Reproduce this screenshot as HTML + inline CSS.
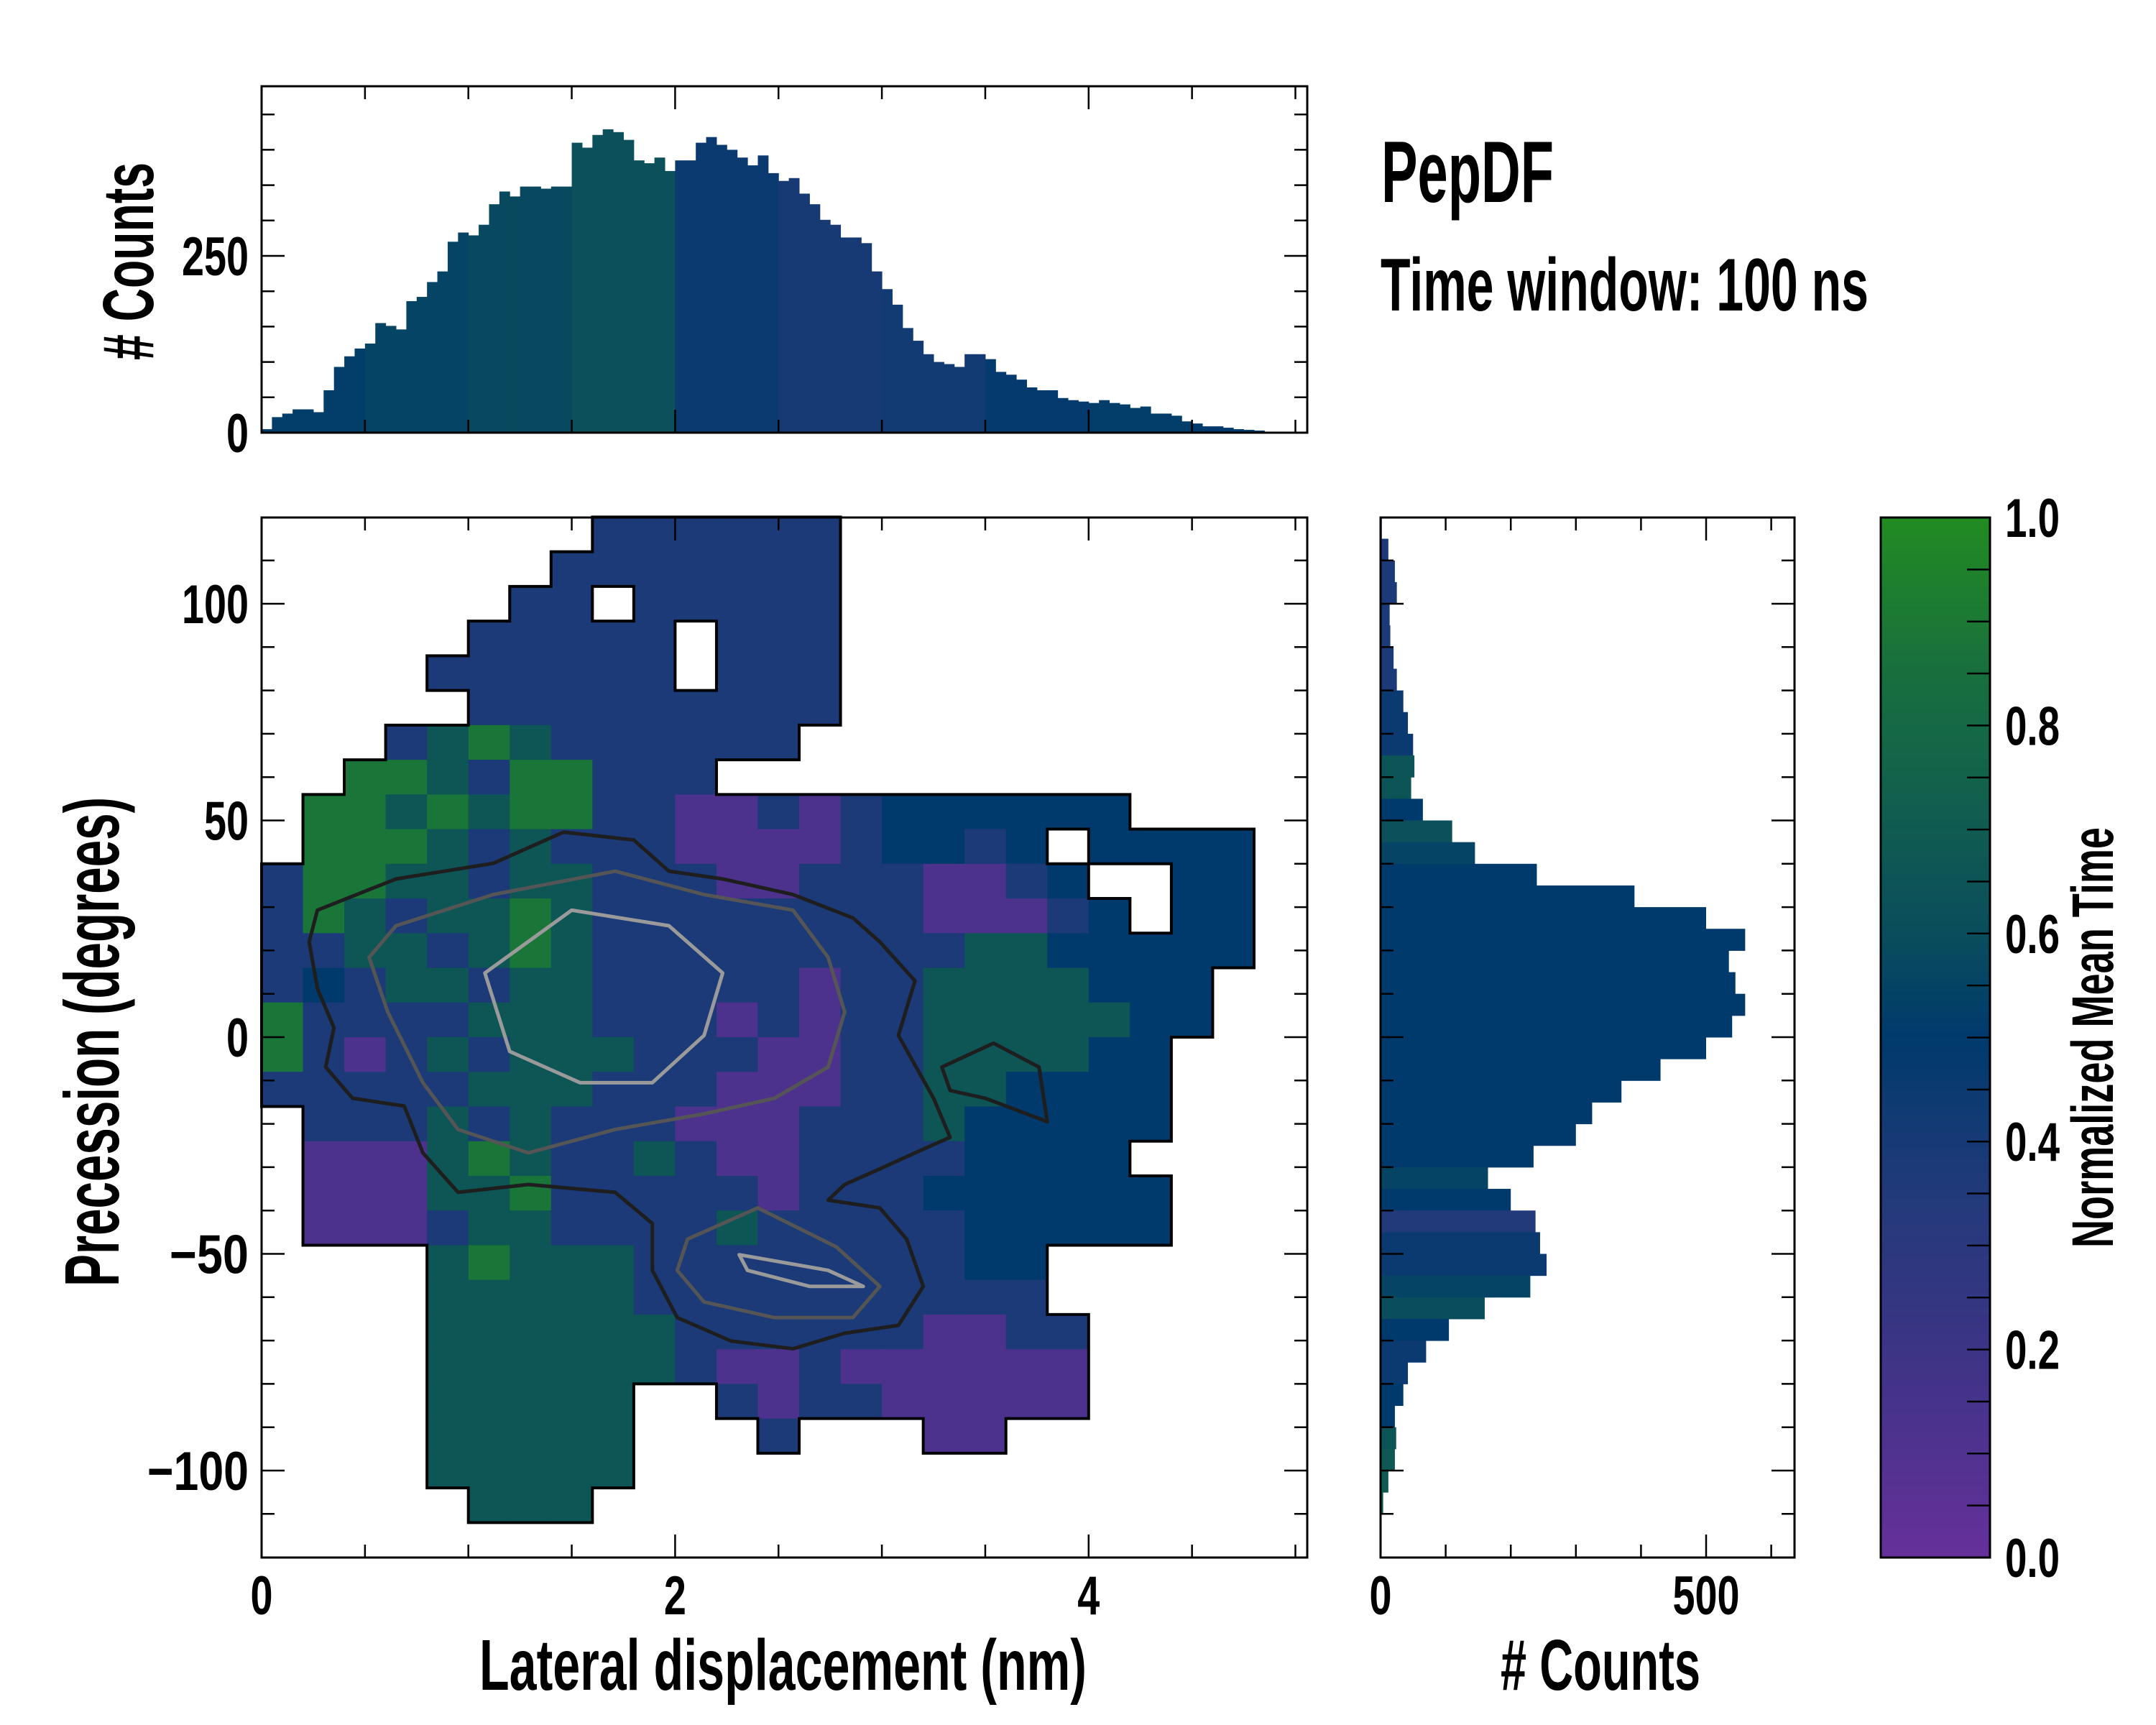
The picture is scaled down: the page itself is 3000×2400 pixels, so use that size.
<!DOCTYPE html>
<html><head><meta charset="utf-8"><title>PepDF</title>
<style>
html,body{margin:0;padding:0;background:#fff;}
svg{display:block;}
text{font-family:"Liberation Sans Narrow","Liberation Sans",sans-serif;font-weight:bold;fill:#000;}
</style></head>
<body>
<svg id="fig" xmlns="http://www.w3.org/2000/svg" width="3000" height="2400" viewBox="0 0 3000 2400">
<rect x="0" y="0" width="3000" height="2400" fill="#fff"/>
<g id="heat"></g>
<g id="contours"></g>
<g id="tophist"></g>
<g id="righthist"></g>
<g id="cbar"></g>
<g id="ticks"></g>
<rect x="364" y="720" width="1455" height="1447" fill="none" stroke="#000" stroke-width="3"/>
<rect x="364" y="120" width="1455" height="482" fill="none" stroke="#000" stroke-width="3"/>
<rect x="1921" y="720" width="576" height="1447" fill="none" stroke="#000" stroke-width="3"/>
<rect x="2617" y="720" width="152" height="1447" fill="none" stroke="#000" stroke-width="3"/>
<g id="labels"></g>
<text x="1922" y="281" font-size="122" textLength="240" lengthAdjust="spacingAndGlyphs">PepDF</text>
<text x="1921" y="432" font-size="104" textLength="679" lengthAdjust="spacingAndGlyphs">Time window: 100 ns</text>
<text x="667" y="2351" font-size="100" textLength="845" lengthAdjust="spacingAndGlyphs">Lateral displacement (nm)</text>
<text x="2088" y="2351" font-size="100" textLength="278" lengthAdjust="spacingAndGlyphs"># Counts</text>
<text transform="translate(165,1790) rotate(-90)" x="0" y="0" font-size="108" textLength="681" lengthAdjust="spacingAndGlyphs">Precession (degrees)</text>
<text transform="translate(213,501) rotate(-90)" x="0" y="0" font-size="100" textLength="275" lengthAdjust="spacingAndGlyphs"># Counts</text>
<text transform="translate(2940,1736) rotate(-90)" x="0" y="0" font-size="82" textLength="585" lengthAdjust="spacingAndGlyphs">Normalized Mean Time</text>
</svg>
<script>
// ---------- data ----------
const heatRows = [
"........BBBBBB...........",
".......BBBBBBB...........",
"......BB.BBBBB...........",
".....BBBBB.BBB...........",
"....BBBBBB.BBB...........",
".....BBBBBBBBB...........",
"...BTGTBBBBBB............",
"..GGTBGGBBB..............",
".GGTGTGGBBPPBPBNNNNNN....",
".GGGTBTBBBPPPPBNNBN.NNNN.",
"BGGTTBTTBBBPPBBBPPBN..NN.",
"BGTBTTGTBBBBBBBBPPPBN.NN.",
"BBTTBTGTBBBBBBBBBTTNNNNN.",
"BNBTTBTTBBBBBPBBTTTTNNN..",
"GBBBBTTTBBBPBPBBTTTTTNN..",
"GBPBTBTTTBBBPPBBTTTTNN...",
"BBBBBTTTBBBPPPBBTTNNNN...",
".BBBTBTBBBPPPBBBTNNNNN...",
".PPPTGTBBTBPPBBBBNNNN....",
".PPPTTGBBBBBPBBBNNNNNN...",
".PPPBTTBBBBTBBBBBNNNNN...",
"....TGTTTBBBBBBBBNN......",
"....TTTTTBBBBBBBBBB......",
"....TTTTTTBBBBBBPPBB.....",
"....TTTTTTBPPBPPPPPP.....",
"....TTTTT..BPBBPPPPP.....",
"....TTTTT...B...PP.......",
"....TTTTT................",
".....TTT.................",
"........................."
];
const heatCodes = ["P","B","N","T","G"];
const heatValues = [0.12,0.38,0.5,0.66,0.88];
const heatX0 = 0, heatDX = 0.2, heatY0 = 120, heatDY = 8;

const topCounts = [5,22,27,33,33,29,60,93,108,119,126,155,151,146,186,192,213,228,270,283,
279,294,323,341,334,348,348,345,348,348,410,403,421,429,425,414,385,381,389,370,
385,385,410,418,407,400,389,378,392,367,356,360,338,323,301,294,276,276,268,228,
203,181,148,130,111,100,97,93,111,111,104,86,82,75,64,60,60,49,46,44,
42,46,42,40,35,37,27,27,24,16,13,9,9,7,5,4,3];
const topBinStart = 0, topBinWidth = 0.05;
const topColorSeg = [0.52,0.55,0.58,0.62,0.45,0.4,0.42,0.48,0.52,0.5];

const rightCounts = [2,12,22,25,14,15,20,25,35,42,50,52,47,65,110,145,240,390,500,560,535,545,560,540,
500,430,370,325,300,235,165,200,238,245,255,230,160,105,70,42,35,22,24,22,12,4,0,0];
const rightColors = [0.38,0.38,0.38,0.38,0.38,0.38,0.38,0.38,0.45,0.45,0.45,0.65,0.65,0.5,0.62,0.55,
0.5,0.5,0.5,0.5,0.5,0.5,0.5,0.5,0.5,0.5,0.5,0.5,0.5,0.5,0.55,0.5,
0.35,0.45,0.45,0.55,0.6,0.5,0.45,0.45,0.5,0.5,0.65,0.68,0.7,0.7,0.5,0.5];
const rightBinTop = 120, rightBinHeight = 5;

const contourOuterX = [0.27,0.65,1.12,1.46,1.80,1.97,2.23,2.57,2.86,2.99,3.16,3.08,3.25,3.33,3.16,2.99,2.82,2.74,2.99,3.12,3.20,3.08,2.82,2.57,2.27,2.01,1.89,1.89,1.71,1.29,0.95,0.78,0.69,0.44,0.31,0.35,0.27,0.23];
const contourOuterY = [29.3,36.5,40.1,47.3,45.5,38.3,36.5,32.9,27.5,22.0,13.0,0.4,-14.1,-23.1,-26.7,-30.4,-34.0,-37.6,-39.4,-46.6,-57.5,-66.5,-68.3,-71.9,-70.1,-64.7,-53.8,-43.0,-35.8,-34.0,-35.8,-26.7,-15.9,-14.1,-6.9,2.2,11.2,22.0];
const contourRightX = [3.29,3.54,3.76,3.80,3.50,3.33];
const contourRightY = [-6.9,-1.4,-6.9,-19.5,-14.1,-12.3];
const contourMidX = [0.65,1.12,1.71,2.14,2.57,2.74,2.82,2.74,2.48,2.14,1.71,1.29,0.95,0.78,0.61,0.52];
const contourMidY = [25.7,32.9,38.3,32.9,29.3,18.4,5.8,-6.9,-14.1,-17.7,-21.3,-26.7,-21.3,-10.5,5.8,18.4];
const contourLowX = [2.06,2.40,2.78,2.99,2.86,2.48,2.14,2.01];
const contourLowY = [-46.6,-39.4,-48.4,-57.5,-64.7,-64.7,-61.1,-53.8];
const contourInnerX = [1.08,1.50,1.97,2.23,2.14,1.89,1.54,1.20];
const contourInnerY = [14.8,29.3,25.7,14.8,0.4,-10.5,-10.5,-3.3];
const contourLowInnerX = [2.31,2.74,2.91,2.65,2.35];
const contourLowInnerY = [-50.2,-53.8,-57.5,-57.5,-53.8];

const xTickVals = [0,2,4];
const xTickLabels = ["0","2","4"];
const yTickVals = [100,50,0,-50,-100];
const yTickLabels = ["100","50","0","\u221250","\u2212100"];
const topYTickVals = [0,250];
const topYTickLabels = ["0","250"];
const rightXTickVals = [0,500];
const rightXTickLabels = ["0","500"];
const cbTickVals = [0,0.2,0.4,0.6,0.8,1.0];
const cbTickLabels = ["0.0","0.2","0.4","0.6","0.8","1.0"];

// ---------- scales ----------
const X = x => 364 + x*287.7;
const Y = y => 1443 - y*6.03;
const YT = c => 602 - c*0.984;
const XR = c => 1921 + c*0.906;
const CY = v => 2167 - v*1447;

const stops = [[0,[102,48,154]],[0.2,[60,52,133]],[0.35,[34,58,122]],[0.5,[0,58,108]],[0.6,[10,77,92]],[0.75,[19,98,76]],[0.85,[24,111,62]],[1,[34,139,34]]];
function cmap(v){
  v=Math.max(0,Math.min(1,v));
  for(let i=1;i<stops.length;i++){
    if(v<=stops[i][0]){
      const a=stops[i-1],b=stops[i],t=(v-a[0])/(b[0]-a[0]);
      const c=a[1].map((q,k)=>Math.round(q+(b[1][k]-q)*t));
      return "rgb("+c.join(",")+")";
    }
  }
  return "rgb(34,139,34)";
}
const NS="http://www.w3.org/2000/svg";
function mk(tag,parent,attrs){const e=document.createElementNS(NS,tag);for(const k in attrs)e.setAttribute(k,attrs[k]);parent.appendChild(e);return e;}

// ---------- heatmap ----------
const heat=document.getElementById('heat');
const nR=heatRows.length,nC=heatRows[0].length;
function on(r,c){return r>=0&&r<nR&&c>=0&&c<nC&&heatRows[r][c]!=='.';}
for(let r=0;r<nR;r++){for(let c=0;c<nC;c++){
  const ch=heatRows[r][c]; if(ch==='.')continue;
  const v=heatValues[heatCodes.indexOf(ch)];
  const x0=X(heatX0+c*heatDX),x1=X(heatX0+(c+1)*heatDX);
  const y0=Y(heatY0-r*heatDY),y1=Y(heatY0-(r+1)*heatDY);
  const e=mk('rect',heat,{x:x0,y:y0,width:Math.min(x1,1819)-x0+0.6,height:y1-y0+0.6,fill:cmap(v)});
  
  
}}
let d="";
for(let r=0;r<nR;r++){for(let c=0;c<nC;c++){
  if(!on(r,c))continue;
  const x0=X(heatX0+c*heatDX),x1=Math.min(X(heatX0+(c+1)*heatDX),1819);
  const y0=Y(heatY0-r*heatDY),y1=Y(heatY0-(r+1)*heatDY);
  if(!on(r-1,c))d+=`M${x0},${y0}H${x1}`;
  if(!on(r+1,c))d+=`M${x0},${y1}H${x1}`;
  if(!on(r,c-1))d+=`M${x0},${y0}V${y1}`;
  if(!on(r,c+1))d+=`M${x1},${y0}V${y1}`;
}}
const ol=mk('path',heat,{d:d,fill:'none',stroke:'#000','stroke-width':4,'stroke-linecap':'square'});



// ---------- contours ----------
const cg=document.getElementById('contours');
function contour(xs,ys,color,name){
  const pts=xs.map((x,i)=>X(x)+","+Y(ys[i])).join(" ");
  const e=mk('polygon',cg,{points:pts,fill:'none',stroke:color,'stroke-width':5,'stroke-linejoin':'round'});
  
  
}
contour(contourOuterX,contourOuterY,'#1e1e1e','contour-level-1');
contour(contourRightX,contourRightY,'#1e1e1e','contour-level-1-right');
contour(contourMidX,contourMidY,'#555555','contour-level-2');
contour(contourLowX,contourLowY,'#555555','contour-level-2-lower');
contour(contourInnerX,contourInnerY,'#9a9a9a','contour-level-3');
contour(contourLowInnerX,contourLowInnerY,'#9a9a9a','contour-level-3-lower');

// ---------- top histogram ----------
const th=document.getElementById('tophist');
topCounts.forEach((c,i)=>{
  const xs=topBinStart+i*topBinWidth;
  const seg=topColorSeg[Math.min(topColorSeg.length-1,Math.floor(xs/0.5))];
  const e=mk('rect',th,{x:X(xs),y:YT(c),width:X(xs+topBinWidth)-X(xs)+0.5,height:YT(0)-YT(c),fill:cmap(seg)});
  
  
});

// ---------- right histogram ----------
const rh=document.getElementById('righthist');
rightCounts.forEach((c,i)=>{
  if(c<=0)return;
  const yt=rightBinTop-i*rightBinHeight;
  const e=mk('rect',rh,{x:XR(0),y:Y(yt),width:XR(c)-XR(0),height:Y(yt-rightBinHeight)-Y(yt)+0.5,fill:cmap(rightColors[i])});
  
  
});

// ---------- colorbar ----------
const cb=document.getElementById('cbar');
for(let k=0;k<200;k++){
  const v0=k/200,v1=(k+1)/200;
  const e=mk('rect',cb,{x:2617,y:CY(v1),width:152,height:CY(v0)-CY(v1)+0.6,fill:cmap((v0+v1)/2)});
  
  
}

// ---------- ticks ----------
const tg=document.getElementById('ticks');
function tick(x1,y1,x2,y2){
  const e=mk('line',tg,{x1:x1,y1:y1,x2:x2,y2:y2,stroke:'#000','stroke-width':2.5});
  
  
}
for(let k=0;k<=10;k++){const v=k*0.5,x=X(v),L=(k%4===0)?32:18;
  tick(x,2167,x,2167-L);tick(x,720,x,720+L);tick(x,602,x,602-L);tick(x,120,x,120+L);}
for(let v=-110;v<=110;v+=10){const y=Y(v),L=(v%50===0)?32:18;
  tick(364,y,364+L,y);tick(1819,y,1819-L,y);tick(1921,y,1921+L,y);tick(2497,y,2497-L,y);}
for(let c=50;c<=450;c+=50){const y=YT(c),L=(c%250===0)?32:18;tick(364,y,364+L,y);tick(1819,y,1819-L,y);}
for(let c=100;c<=600;c+=100){const x=XR(c),L=(c%500===0)?32:18;tick(x,2167,x,2167-L);tick(x,720,x,720+L);}
for(let k=1;k<20;k++){const y=CY(k*0.05);tick(2769,y,2737,y);}

// ---------- tick labels ----------
const lg=document.getElementById('labels');
function tlen(s){let w=0;for(const ch of s){w+= ch==='.'?14:(ch==='\u2212'?48:31);}return w;}
function label(txt,x,y,anchor,name){
  const e=mk('text',lg,{x:x,y:y,'text-anchor':anchor,'font-size':76,textLength:tlen(txt),lengthAdjust:'spacingAndGlyphs'});
  e.textContent=txt;
  
  
}
xTickVals.forEach((v,i)=>label(xTickLabels[i],X(v),2246,'middle','x-tick-label'));
yTickVals.forEach((v,i)=>label(yTickLabels[i],346,Y(v)+27,'end','y-tick-label'));
topYTickVals.forEach((v,i)=>label(topYTickLabels[i],346,YT(v)+27,'end','top-hist-y-tick-label'));
rightXTickVals.forEach((v,i)=>label(rightXTickLabels[i],XR(v),2246,'middle','right-hist-x-tick-label'));
cbTickVals.forEach((v,i)=>label(cbTickLabels[i],2790,CY(v)+27,'start','colorbar-tick-label'));
</script>
</body></html>
